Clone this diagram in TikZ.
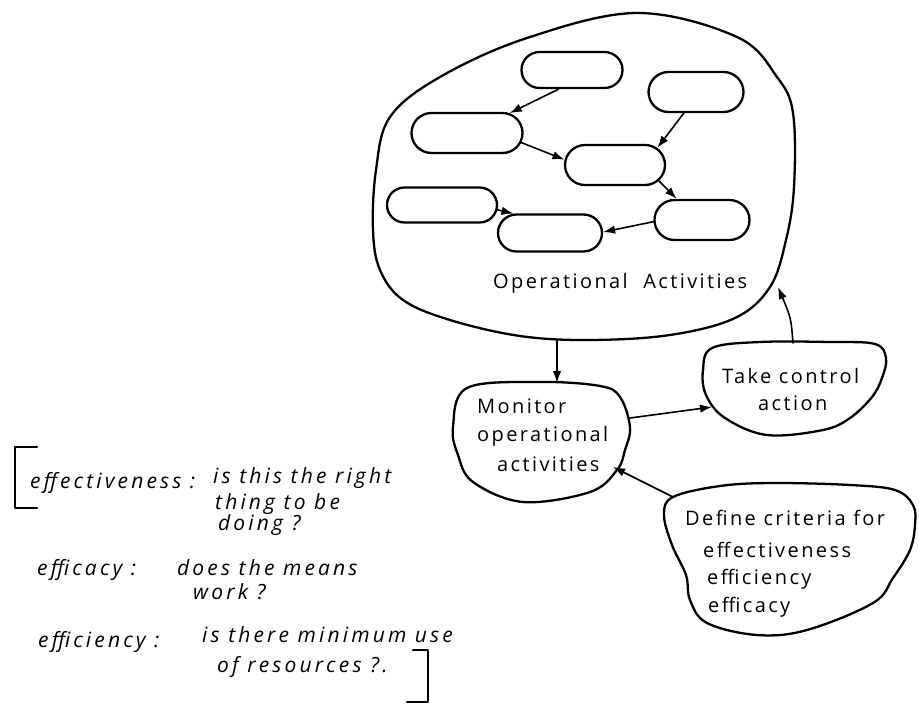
\documentclass[tikz,border=0pt]{standalone}
\usepackage{fontspec}
\setmainfont{Open Sans}
\newfontfamily\hand[LetterSpace=12]{Open Sans}
\newfontfamily\handit[LetterSpace=15]{Open Sans Italic}
\usetikzlibrary{arrows.meta,shapes.misc}
\begin{document}
\begin{tikzpicture}[x=1pt,y=-1pt,
  ink/.style={line width=2.3pt, line join=round, line cap=round},
  oval/.style={ink, draw, rounded rectangle, inner sep=0pt},
  arr/.style={line width=1.6pt, line cap=round, -{Latex[length=12pt,width=8.5pt]}},
  lbl/.style={anchor=base west, inner sep=0pt, font=\hand\fontsize{20}{22}\selectfont},
  deflbl/.style={anchor=base west, inner sep=0pt, font=\handit\fontsize{21}{23}\selectfont}]
\fill[white] (0,0) rectangle (919,704);
\useasboundingbox (0,0) rectangle (919,704);

% big blob: operational activities
\draw[ink] plot[smooth cycle, tension=0.6] coordinates {
  (637,13) (737,37) (777,77) (793,113) (794,187) (786,240) (770,287)
  (735,318) (670,335) (590,340) (520,336) (450,320) (403,300) (380,270)
  (373,230) (376,170) (390,117) (440,77) (527,38)};

% small activity ovals
\node[oval, minimum width=101, minimum height=36] (e1) at (572,70) {};
\node[oval, minimum width=95,  minimum height=40] (e2) at (696,92) {};
\node[oval, minimum width=111, minimum height=40] (e3) at (467,133) {};
\node[oval, minimum width=100, minimum height=40] (e4) at (615,165) {};
\node[oval, minimum width=110, minimum height=35] (e5) at (442,205) {};
\node[oval, minimum width=104, minimum height=37] (e6) at (550,233) {};
\node[oval, minimum width=95,  minimum height=40] (e7) at (702,220) {};

\draw[arr] (e1.235) -- (e3.25);
\draw[arr] (e3.-10) -- (e4.174);
\draw[arr] (e2.240) -- (e4.22);
\draw[arr] (e4.-20) -- (e7.140);
\draw[arr] (e5.-5) -- (e6.152);
\draw[arr] (e7.182) -- (e6.1);

\node[lbl] (opact) at (493,288) {Operational\hspace{8pt} Activities};

% monitor blob
\draw[ink] plot[smooth cycle, tension=0.6] coordinates {
  (467,388) (540,382) (600,386) (620,397) (630,427) (625,450) (617,470)
  (590,492) (523,502) (473,482) (458,455) (453,427)};
\node[lbl] (mon1) at (477,413) {Monitor};
\node[lbl] (mon2) at (477,441) {operational};
\node[lbl] (mon3) at (497,471) {activities};

% take control blob
\draw[ink] plot[smooth cycle, tension=0.6] coordinates {
  (712,348) (760,342) (830,342) (875,344) (886,358) (882,378) (872,397)
  (850,418) (823,430) (767,435) (725,418) (706,395) (703,370)};
\node[lbl] (take1) at (722,383) {Take control};
\node[lbl] (take2) at (758,410) {action};

% define criteria blob
\draw[ink] plot[smooth cycle, tension=0.6] coordinates {
  (673,497) (720,486) (773,483) (850,485) (895,490) (913,505) (915,525)
  (910,550) (893,578) (873,603) (807,630) (757,635) (707,623) (690,600)
  (686,575) (672,545) (664,515)};
\node[lbl] (def1) at (685,525) {Define criteria for};
\node[lbl] (def2) at (703,557) {effectiveness};
\node[lbl] (def3) at (707,584) {efficiency};
\node[lbl] (def4) at (708,612) {efficacy};

% connector end points on the blobs
\coordinate (opB) at (557,340);
\coordinate (monT) at (557,383);
\coordinate (monR) at (630,418);
\coordinate (takeL) at (712,407);
\coordinate (takeT) at (793,343);
\coordinate (opR) at (778,287);
\coordinate (defL) at (673,497);
\coordinate (monBR) at (613,467);

\draw[arr] (opB) -- (monT);
\draw[arr] (monR) -- (takeL);
\draw[arr] (takeT) .. controls (791,318) .. (opR);
\draw[arr] (defL) -- (monBR);

% definitions
\draw[ink] (37,447) -- (15,447) -- (15,508) -- (37,508);
\node[deflbl] (t1) at (30,488) {effectiveness :};
\node[deflbl] (d1a) at (213,483) {is this the right};
\node[deflbl] (d1b) at (215,509) {thing to be};
\node[deflbl] (d1c) at (218,530) {doing ?};
\node[deflbl] (t2) at (37,575) {efficacy :};
\node[deflbl] (d2a) at (177,575) {does the means};
\node[deflbl] (d2b) at (193,599) {work ?};
\node[deflbl] (t3) at (38,647) {efficiency :};
\node[deflbl] (d3a) at (202,642) {is there minimum use};
\node[deflbl] (d3b) at (217,672) {of resources ?.};
\draw[ink] (413,650) -- (428,650) -- (428,702) -- (407,702);
\end{tikzpicture}
\end{document}
